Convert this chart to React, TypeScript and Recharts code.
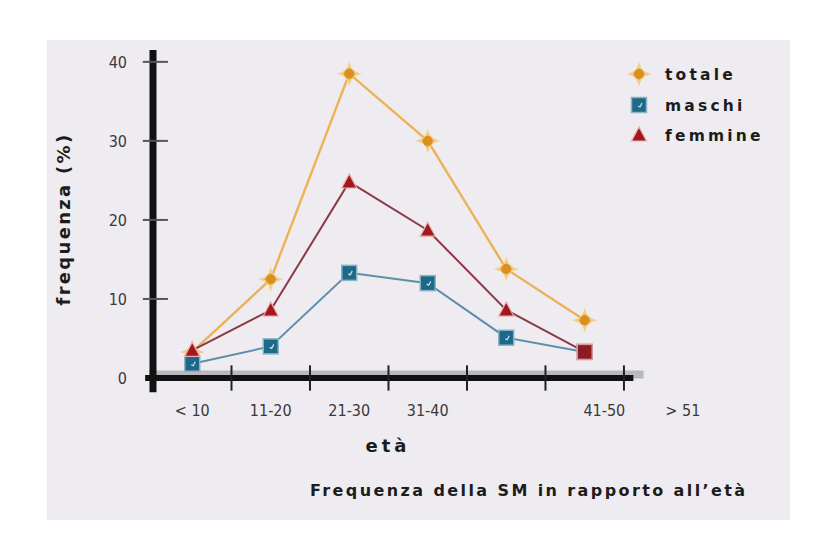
import React from 'react';
import { LineChart, Line, XAxis, YAxis, ReferenceLine } from 'recharts';

const categories = ['< 10', '11-20', '21-30', '31-40', '41-50', '> 51'];
const totale = [3.3, 12.5, 38.5, 30.0, 13.8, 7.3];
const maschi = [1.8, 4.0, 13.3, 12.0, 5.1, 3.3];
const femmine = [3.5, 8.6, 24.8, 18.7, 8.6, 3.3];
const femmineMarker = ['tri', 'tri', 'tri', 'tri', 'tri', 'square'];
const yTicks = [0, 10, 20, 30, 40];
const yTickMarks = [10, 20, 30, 40];
const xBoundaries = [1, 2, 3, 4, 5, 6];
const labelPositions = [0.5, 1.5, 2.5, 3.5, 5.75, 6.75];
const legendItems = ['totale', 'maschi', 'femmine'];

const data = categories.map((c, i) => ({
  x: i + 0.5,
  name: c,
  totale: totale[i],
  maschi: maschi[i],
  femmine: femmine[i],
}));

const W = 837;
const H = 558;

function Diamond({ cx, cy, r = 9 }: { cx: number; cy: number; r?: number }) {
  return (
    <g>
      <path
        d={`M${cx},${cy - r} Q${cx + 2},${cy - 2} ${cx + r},${cy} Q${cx + 2},${cy + 2} ${cx},${cy + r} Q${cx - 2},${cy + 2} ${cx - r},${cy} Q${cx - 2},${cy - 2} ${cx},${cy - r}Z`}
        fill="#E0982A"
        stroke="#F4CD87"
        strokeWidth={2}
      />
      <circle cx={cx} cy={cy} r={r * 0.55} fill="#D9901F" />
    </g>
  );
}

function Square({ cx, cy, fill = '#1D6A88', stroke = '#8DB2C6', check = true }: any) {
  const s = 15;
  return (
    <g>
      <rect x={cx - s / 2} y={cy - s / 2} width={s} height={s} fill={fill} stroke={stroke} strokeWidth={1.5} />
      {check ? (
        <path d={`M${cx - 1},${cy + 1} L${cx + 1},${cy + 2} L${cx + 3},${cy - 2}`} stroke="#CFE3EE" strokeWidth={1.2} fill="none" />
      ) : null}
    </g>
  );
}

function Triangle({ cx, cy }: { cx: number; cy: number }) {
  return (
    <path
      d={`M${cx},${cy - 8} L${cx + 7.5},${cy + 6} L${cx - 7.5},${cy + 6}Z`}
      fill="#A3171F"
      stroke="#E7AFAF"
      strokeWidth={1.2}
    />
  );
}

const renderTotale = (p: any) => <Diamond key={`t-${p.index}`} cx={p.cx} cy={p.cy} />;
const renderMaschi = (p: any) => <Square key={`m-${p.index}`} cx={p.cx} cy={p.cy} />;
const renderFemmine = (p: any) =>
  femmineMarker[p.index] === 'square' ? (
    <Square key={`f-${p.index}`} cx={p.cx} cy={p.cy} fill="#8E1A22" stroke="#D79A9A" check={false} />
  ) : (
    <Triangle key={`f-${p.index}`} cx={p.cx} cy={p.cy} />
  );

const tickFont = { fontFamily: 'DejaVu Sans Condensed', fontSize: 16, fill: '#3a3a3a' };

export default function App() {
  return (
    <div style={{ position: 'absolute', left: 0, top: 0, width: W, height: H, background: '#ffffff', overflow: 'hidden' }}>
      <div style={{ position: 'absolute', left: 47, top: 40, width: 743, height: 480, background: '#EEECF1' }} />
      <div style={{ position: 'absolute', left: 0, top: 0 }}>
        <LineChart width={W} height={H} data={data} margin={{ top: 50, right: 111, bottom: 150, left: 93 }}>
          <XAxis
            dataKey="x"
            type="number"
            domain={[0, 7.3]}
            ticks={labelPositions}
            interval={0}
            axisLine={false}
            tickLine={false}
            tickSize={0}
            tickMargin={27}
            height={30}
            tick={tickFont}
            tickFormatter={(v: number) => categories[labelPositions.indexOf(v)] ?? ''}
          />
          <YAxis
            type="number"
            domain={[0, 41.5]}
            ticks={yTicks}
            interval={0}
            axisLine={false}
            tickLine={false}
            tickSize={0}
            tickMargin={26}
            width={60}
            tick={tickFont}
          />
          {/* axis shadow */}
          <ReferenceLine
            ifOverflow="visible"
            segment={[{ x: -0.05, y: 0.45 }, { x: 6.25, y: 0.45 }]}
            stroke="#8f8f93"
            strokeOpacity={0.55}
            strokeWidth={8}
          />
          <ReferenceLine
            ifOverflow="visible"
            segment={[{ x: -0.1, y: 0 }, { x: 6.12, y: 0 }]}
            stroke="#111"
            strokeWidth={6}
          />
          <ReferenceLine
            ifOverflow="visible"
            segment={[{ x: 0, y: -1.8 }, { x: 0, y: 41.5 }]}
            stroke="#111"
            strokeWidth={7}
          />
          {xBoundaries.map((b) => (
            <ReferenceLine
              key={`xb-${b}`}
              ifOverflow="visible"
              segment={[{ x: b, y: -1.6 }, { x: b, y: 1.6 }]}
              stroke="#222"
              strokeWidth={2}
            />
          ))}
          {yTickMarks.map((v) => (
            <ReferenceLine
              key={`yt-${v}`}
              ifOverflow="visible"
              segment={[{ x: -0.13, y: v }, { x: 0.19, y: v }]}
              stroke="#555"
              strokeWidth={2}
            />
          ))}
          <Line
            dataKey="totale"
            stroke="#EDB257"
            strokeWidth={2.4}
            dot={renderTotale}
            activeDot={false}
            isAnimationActive={false}
          />
          <Line
            dataKey="maschi"
            stroke="#5E8FAA"
            strokeWidth={2}
            dot={renderMaschi}
            activeDot={false}
            isAnimationActive={false}
          />
          <Line
            dataKey="femmine"
            stroke="#8C3945"
            strokeWidth={2}
            dot={renderFemmine}
            activeDot={false}
            isAnimationActive={false}
          />
        </LineChart>
      </div>
      <svg width={W} height={H} style={{ position: 'absolute', left: 0, top: 0, pointerEvents: 'none' }}>
        <text
          x={63}
          y={219}
          transform="rotate(-90 63 219)"
          textAnchor="middle"
          dominantBaseline="central"
          fontFamily="DejaVu Sans"
          fontWeight="bold"
          fontSize={18}
          letterSpacing={2.3}
          fill="#1c1c1c"
        >
          frequenza (%)
        </text>
        <text
          x={388}
          y={445}
          textAnchor="middle"
          dominantBaseline="central"
          fontFamily="DejaVu Sans"
          fontWeight="bold"
          fontSize={18}
          letterSpacing={4}
          fill="#1c1c1c"
        >
          età
        </text>
        <text
          x={310}
          y={496}
          textAnchor="start"
          fontFamily="DejaVu Sans"
          fontWeight="bold"
          fontSize={16}
          letterSpacing={2.4}
          fill="#1c1c1c"
        >
          Frequenza della SM in rapporto all’età
        </text>
        {legendItems.map((name, i) => {
          const cy = [74, 105, 135][i];
          return (
            <g key={name}>
              {i === 0 ? <Diamond cx={639} cy={cy} /> : i === 1 ? <Square cx={639} cy={cy} /> : <Triangle cx={639} cy={cy} />}
              <text
                x={665}
                y={cy + 6}
                fontFamily="DejaVu Sans"
                fontWeight="bold"
                fontSize={15.5}
                letterSpacing={3.2}
                fill="#1c1c1c"
              >
                {name}
              </text>
            </g>
          );
        })}
      </svg>
    </div>
  );
}
